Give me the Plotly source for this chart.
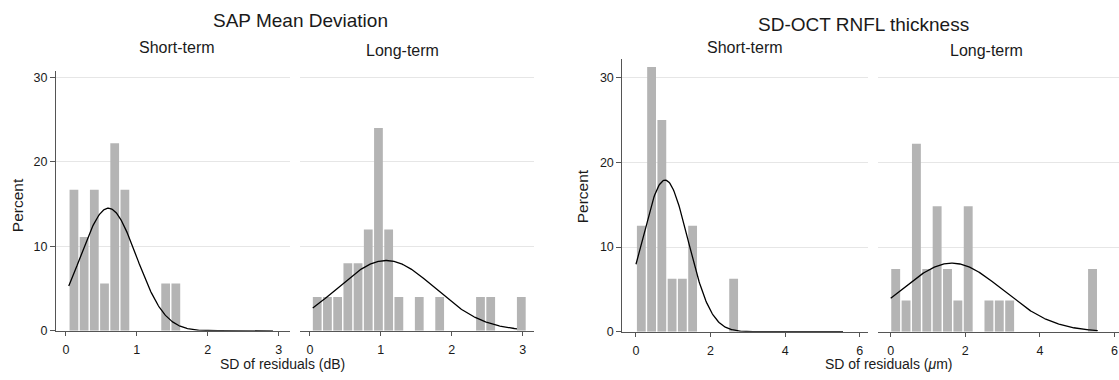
import numpy as np
import plotly.graph_objects as go

# ---------------- data ----------------
# SAP Mean Deviation, short-term (percent per bin)
sap_short_pct = [16.7, 11.1, 16.7, 5.6, 22.2, 16.7, 0, 0, 0, 5.6, 5.6]
sap_short_first_center = 0.113
sap_short_binwidth = 0.1437
sap_short_mean, sap_short_sd = 0.60, 0.395

# SAP Mean Deviation, long-term
sap_long_pct = [4, 4, 4, 8, 8, 12, 24, 12, 4, 0, 4, 0, 4, 0, 0, 0, 4, 4, 0, 0, 4]
sap_long_first_center = 0.103
sap_long_binwidth = 0.1439
sap_long_mean, sap_long_sd = 1.075, 0.69

# SD-OCT RNFL thickness, short-term
rnfl_short_pct = [12.5, 31.25, 25, 6.25, 6.25, 12.5, 0, 0, 0, 6.25]
rnfl_short_first_center = 0.143
rnfl_short_binwidth = 0.275
rnfl_short_mean, rnfl_short_sd = 0.78, 0.613

# SD-OCT RNFL thickness, long-term
rnfl_long_pct = [7.4, 3.7, 22.2, 7.4, 14.8, 7.4, 3.7, 14.8, 0, 3.7, 3.7, 3.7,
                 0, 0, 0, 0, 0, 0, 0, 7.4]
rnfl_long_first_center = 0.134
rnfl_long_binwidth = 0.2777
rnfl_long_mean, rnfl_long_sd = 1.64, 1.368

sap_curve_span = (0.04, 2.92)
rnfl_curve_span = (0.0, 5.55)

sap_ticks = [0, 1, 2, 3]
rnfl_ticks = [0, 2, 4, 6]
y_ticks = [0, 10, 20, 30]

group_titles = ["SAP Mean Deviation", "SD-OCT RNFL thickness"]
panel_titles = ["Short-term", "Long-term", "Short-term", "Long-term"]
x_titles = ["SD of residuals (dB)", "SD of residuals (<i>μ</i>m)"]
y_title = "Percent"

# ---------------- styling ----------------
W, H = 1119, 380
FONT = "Liberation Sans, Arial, Helvetica, sans-serif"
BAR = "#b4b4b4"
AXIS = "#555555"
GRID = "#e6e6e6"
TXT = "#1a1a1a"


def px(x):
    return x / W


def py(y):
    return 1 - y / H


fig = go.Figure()

panels = [
    (sap_short_pct, sap_short_first_center, sap_short_binwidth, sap_short_mean, sap_short_sd, sap_curve_span),
    (sap_long_pct, sap_long_first_center, sap_long_binwidth, sap_long_mean, sap_long_sd, sap_curve_span),
    (rnfl_short_pct, rnfl_short_first_center, rnfl_short_binwidth, rnfl_short_mean, rnfl_short_sd, rnfl_curve_span),
    (rnfl_long_pct, rnfl_long_first_center, rnfl_long_binwidth, rnfl_long_mean, rnfl_long_sd, rnfl_curve_span),
]

for i, (pct, c0, bw, mu, sd, span) in enumerate(panels):
    xa = "x" if i == 0 else f"x{i+1}"
    ya = "y" if i == 0 else f"y{i+1}"
    centers = c0 + bw * np.arange(len(pct))
    fig.add_trace(go.Bar(x=centers, y=pct, width=bw * 0.86,
                         marker=dict(color=BAR, line=dict(width=0)),
                         xaxis=xa, yaxis=ya, showlegend=False, hoverinfo="skip"))
    xs = np.linspace(span[0], span[1], 300)
    ys = 100 * bw * np.exp(-0.5 * ((xs - mu) / sd) ** 2) / (sd * np.sqrt(2 * np.pi))
    fig.add_trace(go.Scatter(x=xs, y=ys, mode="lines",
                             line=dict(color="black", width=1.3),
                             xaxis=xa, yaxis=ya, showlegend=False, hoverinfo="skip"))

xdoms = [(56, 290), (300, 534), (622.3, 867.7), (877.7, 1119)]
xranges = [(-0.14, 3.16), (-0.14, 3.16), (-0.367, 6.212), (-0.3485, 6.12)]
xtickvals = [sap_ticks, sap_ticks, rnfl_ticks, rnfl_ticks]
ydoms = [(72, 337), (72, 337), (60, 338), (60, 338)]
yranges = [(0, 30.8), (0, 30.8), (0, 32.2), (0, 32.2)]

layout = dict(
    width=W, height=H, margin=dict(l=0, r=0, t=0, b=0),
    paper_bgcolor="white", plot_bgcolor="white",
    font=dict(family=FONT, color=TXT, size=12),
    barmode="overlay",
)

for i in range(4):
    xk = "xaxis" if i == 0 else f"xaxis{i+1}"
    yk = "yaxis" if i == 0 else f"yaxis{i+1}"
    ya = "y" if i == 0 else f"y{i+1}"
    xa = "x" if i == 0 else f"x{i+1}"
    layout[xk] = dict(
        domain=[px(xdoms[i][0]), px(xdoms[i][1])], range=list(xranges[i]),
        anchor=ya, tickmode="array", tickvals=xtickvals[i],
        ticks="outside", ticklen=4, tickcolor=AXIS, tickwidth=1,
        ticklabelstandoff=3,
        showline=True, linecolor=AXIS, linewidth=1,
        showgrid=False, zeroline=False,
        tickfont=dict(size=12.5, color=TXT, family=FONT),
    )
    first = i in (0, 2)
    layout[yk] = dict(
        domain=[py(ydoms[i][1]), py(ydoms[i][0])], range=list(yranges[i]),
        anchor=xa, tickmode="array", tickvals=y_ticks,
        ticks="outside" if first else "", ticklen=5, tickcolor=AXIS,
        showticklabels=first,
        showline=first, linecolor=AXIS, linewidth=1,
        showgrid=True, gridcolor=GRID, gridwidth=1, zeroline=False,
        tickfont=dict(size=12.5, color=TXT, family=FONT),
    )

fig.update_layout(**layout)

ann = []


def add_text(text, x, y, size, angle=0):
    ann.append(dict(text=text, x=px(x), y=py(y), xref="paper", yref="paper",
                    xanchor="center", yanchor="middle", showarrow=False,
                    textangle=angle, font=dict(size=size, family=FONT, color=TXT)))


add_text(group_titles[0], 300, 21, 19)
add_text(group_titles[1], 863, 25, 19)
add_text(panel_titles[0], 176.5, 48.5, 16)
add_text(panel_titles[1], 402.7, 51.5, 16)
add_text(panel_titles[2], 745, 48, 16)
add_text(panel_titles[3], 986.7, 51.5, 16)
add_text(x_titles[0], 282, 371, 14)
add_text(x_titles[1], 888, 371, 14)
add_text(y_title, 17, 209, 15.5, -90)
add_text(y_title, 582, 200, 15.5, -90)

fig.update_layout(annotations=ann)

fig.write_html("out.html")
